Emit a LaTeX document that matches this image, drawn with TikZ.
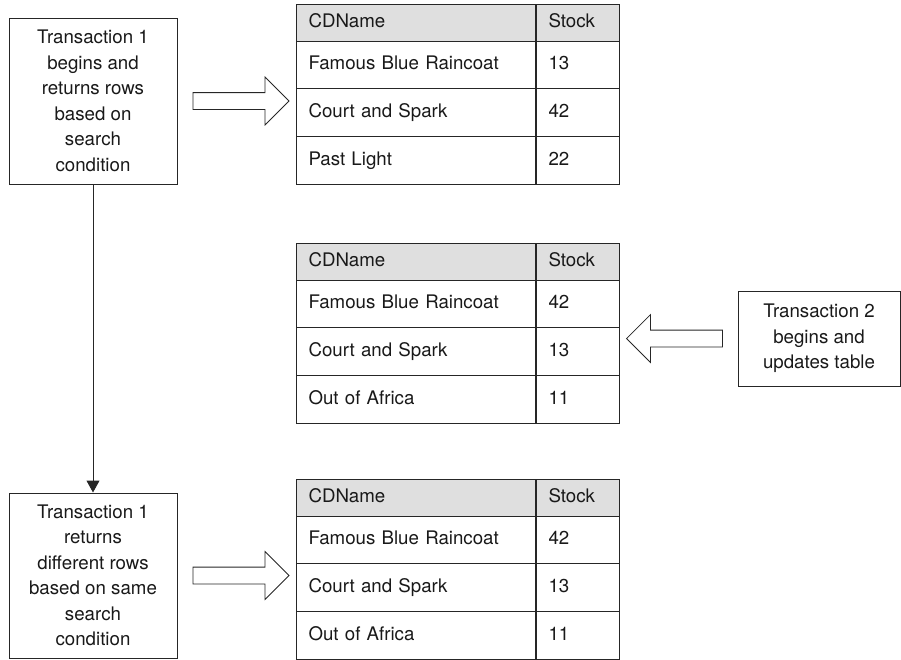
\documentclass[tikz,border=0pt]{standalone}
\usepackage{fontspec}
\setmainfont{TeX Gyre Heros}
\usetikzlibrary{arrows.meta, shapes.arrows, calc}

\begin{document}
\begin{tikzpicture}[x=1pt, y=-1pt, line width=1pt, draw=black!85, text=black!90,
  font=\fontsize{18.7}{25.5}\selectfont,
  box/.style={draw, minimum width=168, align=center, inner sep=0pt},
  cell/.style={draw, anchor=north west, inner xsep=12, inner ysep=0, minimum height=47.7,
    align=left, text height=13.5, text depth=4},
  head/.style={cell, fill=gray!25, minimum height=36.5},
  blockarrow/.style={single arrow, draw, line width=.8pt, inner sep=8, minimum height=96,
    single arrow head extend=15.5}]
  \useasboundingbox (0,0) rectangle (901,659);
  % the three states of the table
  \foreach \t/\ty/\na/\sa/\nb/\sb/\nc/\sc in {
      1/4/Famous Blue Raincoat/13/Court and Spark/42/Past Light/22,
      2/243/Famous Blue Raincoat/42/Court and Spark/13/Out of Africa/11,
      3/479/Famous Blue Raincoat/42/Court and Spark/13/Out of Africa/11} {
    \node[head, text width=215] (t\t-h1) at (296,\ty) {CDName};
    \node[head, text width=59] (t\t-h2) at (t\t-h1.north east) {Stock};
    \foreach \n/\s [count=\r] in {\na/\sa, \nb/\sb, \nc/\sc} {
      \node[cell, text width=215] (t\t-n\r) at (296,{\ty+36.5+(\r-1)*47.7}) {\n};
      \node[cell, text width=59] (t\t-s\r) at (t\t-n\r.north east) {\s};
    }
  }
  \node[box, minimum height=166] (b1) at (93,101)
    {Transaction 1\\begins and\\returns rows\\based on\\search\\condition};
  \node[box, minimum height=165] (b3) at (93,575.5)
    {Transaction 1\\returns\\different rows\\based on same\\search\\condition};
  \node[box, minimum width=162, minimum height=95] (b2) at (819,338.5)
    {Transaction 2\\begins and\\updates table};
  \draw[-{Triangle[width=13pt, length=12pt]}] (b1) -- (b3);
  \node[blockarrow] (a1) at ($(b1.east)!.5!(t1-n1.west |- b1.east)$) {};
  \node[blockarrow, shape border rotate=180] (a2) at ($(b2.west)!.5!(t2-s1.east |- b2.west)$) {};
  \node[blockarrow] (a3) at ($(b3.east)!.5!(t3-n1.west |- b3.east)$) {};
\end{tikzpicture}
\end{document}
